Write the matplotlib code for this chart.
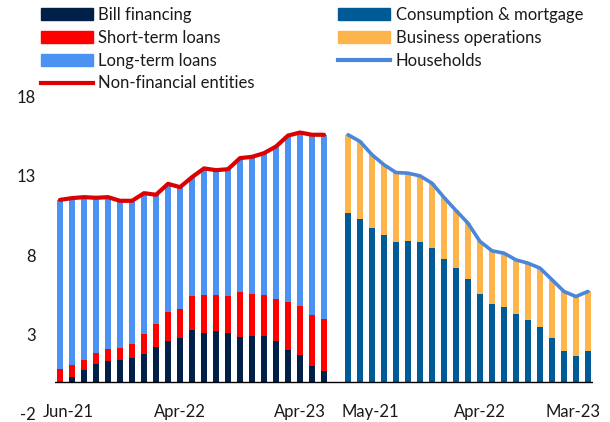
import numpy as np
import matplotlib
matplotlib.use('Agg')
import matplotlib.pyplot as plt
from matplotlib.patches import Patch
from matplotlib.lines import Line2D

plt.rcParams['font.family'] = ['Lato', 'DejaVu Sans']

# left panel: non-financial entities, Jun-21 .. Apr-23
bill_financing = [0.0, 0.30, 0.77, 1.12, 1.35, 1.42, 1.50, 1.77, 2.19, 2.57, 2.80, 3.29,
                  3.08, 3.20, 3.08, 2.82, 2.89, 2.89, 2.57, 2.05, 1.69, 1.00, 0.68]
short_term = [0.83, 0.78, 0.65, 0.72, 0.76, 0.73, 0.90, 1.30, 1.47, 1.88, 1.83, 2.12,
              2.41, 2.31, 2.37, 2.84, 2.66, 2.58, 2.67, 2.98, 3.09, 3.25, 3.30]
non_financial = [11.49, 11.60, 11.66, 11.62, 11.66, 11.43, 11.43, 11.91, 11.81, 12.50, 12.29, 12.92,
                 13.47, 13.36, 13.42, 14.12, 14.20, 14.43, 14.85, 15.54, 15.73, 15.59, 15.59]
long_term = [round(t - b - s, 2) for t, b, s in zip(non_financial, bill_financing, short_term)]

# right panel: households, May-21 .. Mar-23
consumption = [10.69, 10.28, 9.73, 9.25, 8.85, 8.87, 8.83, 8.43, 7.78, 7.21, 6.50,
               5.55, 4.96, 4.73, 4.27, 3.94, 3.50, 2.78, 2.00, 1.65, 2.00]
households = [15.59, 15.17, 14.33, 13.70, 13.21, 13.17, 13.00, 12.54, 11.64, 10.82, 10.02,
              8.87, 8.28, 8.13, 7.71, 7.50, 7.19, 6.46, 5.72, 5.40, 5.72]
business = [round(h - c, 2) for h, c in zip(households, consumption)]

x_labels = ['Jun-21', 'Apr-22', 'Apr-23', 'May-21', 'Apr-22', 'Mar-23']
x_label_pos = [0.67, 10, 20, 25.83, 35, 42.75]
y_ticks = [-2, 3, 8, 13, 18]

c_bill = '#00204A'
c_short = '#FF0000'
c_long = '#4B92F2'
c_nfe = '#DD0000'
c_cons = '#005A96'
c_bus = '#FDB44B'
c_hh = '#4A86DA'

xl = np.arange(len(non_financial))
xr = np.arange(len(households)) + len(non_financial) + 1

fig = plt.figure(figsize=(6.10, 4.22), dpi=100)
ax = fig.add_axes([55 / 610, 8 / 422, 538 / 610, 317.5 / 422])

w = 0.5
b1 = np.array(bill_financing)
b2 = b1 + np.array(short_term)
ax.bar(xl, bill_financing, w, color=c_bill, zorder=2)
ax.bar(xl, short_term, w, bottom=b1, color=c_short, zorder=2)
ax.bar(xl, long_term, w, bottom=b2, color=c_long, zorder=2)
ax.plot(xl, non_financial, color=c_nfe, lw=3.0, solid_joinstyle='round',
        solid_capstyle='round', zorder=3)

ax.bar(xr, consumption, w, color=c_cons, zorder=2)
ax.bar(xr, business, w, bottom=consumption, color=c_bus, zorder=2)
ax.plot(xr, households, color=c_hh, lw=2.6, solid_joinstyle='round',
        solid_capstyle='round', zorder=3)

ax.axhline(0, color='black', lw=1.0, zorder=4)

ax.set_xlim(-0.42, 44.42)
ax.set_ylim(-2, 18)
ax.set_yticks(y_ticks)
ax.set_yticklabels([str(v) for v in y_ticks])
ax.tick_params(axis='y', length=0, pad=14, labelsize=12, colors='#1a1a1a')
ax.set_xticks([])
for s in ax.spines.values():
    s.set_visible(False)

for pos, lab in zip(x_label_pos, x_labels):
    ax.text(pos, -1.85, lab, ha='center', va='center', fontsize=12, color='#1a1a1a')

h_left = [Patch(color=c_bill, label='Bill financing'),
          Patch(color=c_short, label='Short-term loans'),
          Patch(color=c_long, label='Long-term loans'),
          Line2D([], [], color=c_nfe, lw=3.0, label='Non-financial entities')]
h_right = [Patch(color=c_cons, label='Consumption & mortgage'),
           Patch(color=c_bus, label='Business operations'),
           Line2D([], [], color=c_hh, lw=3.0, label='Households')]

leg_kw = dict(frameon=False, fontsize=12, handlelength=3.1, handletextpad=0.35,
              labelspacing=0.41, borderpad=0, borderaxespad=0, loc='upper left')
leg1 = fig.legend(handles=h_left, bbox_to_anchor=(41 / 610, 1 - 7 / 422), **leg_kw)
leg2 = fig.legend(handles=h_right, bbox_to_anchor=(338 / 610, 1 - 7 / 422), **leg_kw)
for leg in (leg1, leg2):
    for t in leg.get_texts():
        t.set_color('#1a1a1a')

fig.savefig('out.png', dpi=100)
